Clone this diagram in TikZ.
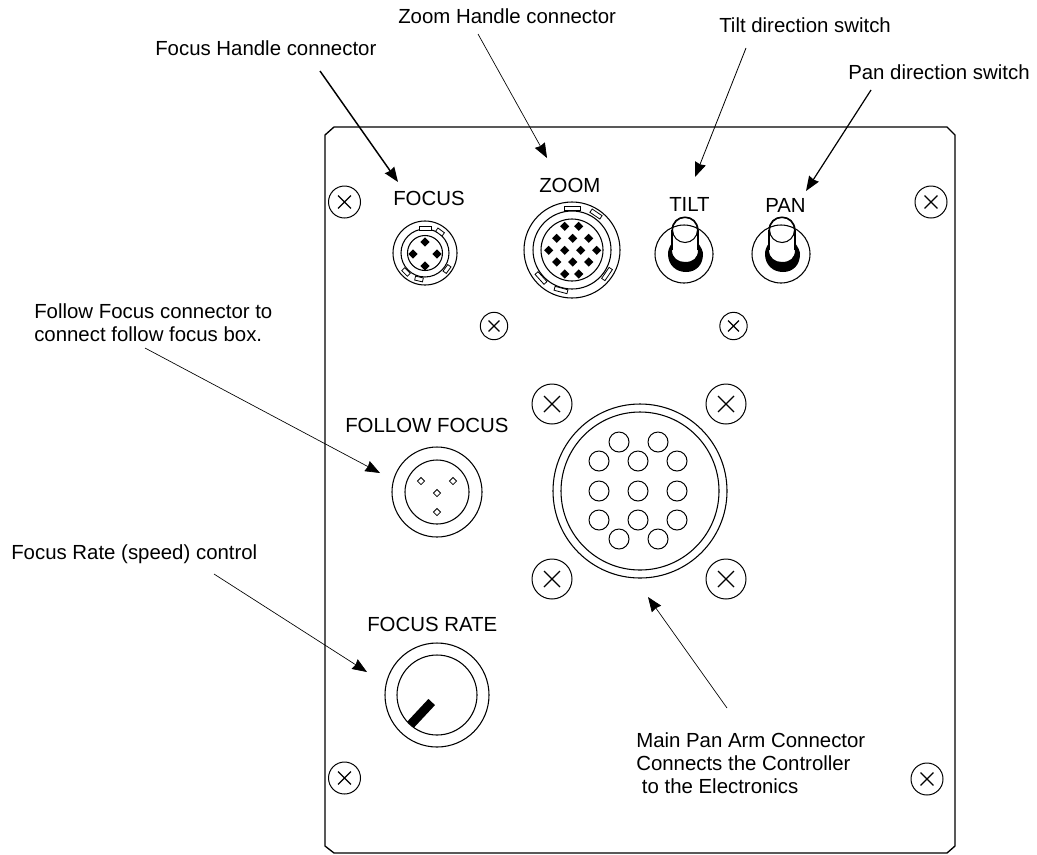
\documentclass[tikz,border=0pt]{standalone}
\usepackage{fontspec}
\setmainfont{Liberation Sans}
\usetikzlibrary{arrows.meta}
\usetikzlibrary{calc}
\usetikzlibrary{shapes.geometric}

\tikzset{
  lbl/.style={anchor=base west,inner sep=0pt,font=\fontsize{15.3}{17.5}\selectfont},
  lbltop/.style={anchor=north west,inner sep=0pt,align=left,font=\fontsize{15.3}{17.5}\selectfont},
  pointer/.style={line width=#1,-{Stealth[length=11pt,width=8.5pt,inset=0.8pt]}},
  ring/.style={line width=0.8pt},
  screw/.style={circle,draw,line width=0.75pt,inner sep=0pt,minimum size=#1,
    path picture={\draw [line width=0.9pt]
      ($(path picture bounding box.center)!0.4!(path picture bounding box.north west)$) --
      ($(path picture bounding box.center)!0.4!(path picture bounding box.south east)$)
      ($(path picture bounding box.center)!0.4!(path picture bounding box.north east)$) --
      ($(path picture bounding box.center)!0.4!(path picture bounding box.south west)$);}},
  pinblack/.style={diamond,fill=black,inner sep=0pt,minimum size=7pt},
  pinopen/.style={diamond,draw,line width=0.6pt,inner sep=0pt,minimum size=5.6pt},
  hole/.style={circle,draw,line width=0.75pt,inner sep=0pt,minimum size=15pt},
  tab/.style={rectangle,draw,fill=white,line width=0.6pt,inner sep=0pt,minimum width=#1,minimum height=3pt},
  toggle/.pic={
    \draw [ring] (0,0) circle (29);
    \fill (-12,-11) .. controls (-15,-7) and (-16,-3) .. (-16,0) .. controls (-16,11) and (-8,18) .. (2,18) .. controls (12,18) and (19,11) .. (19,0) .. controls (19,-3) and (17,-7) .. (14,-11) -- (14,-4) .. controls (14,4) and (9,8) .. (1,8) .. controls (-6,8) and (-12,4) .. (-12,-4) -- cycle;
    \draw [ring] (-12,-24) -- (-12,-4) (14,-24) -- (14,-4);
    \draw [ring] (-12,-24) .. controls (-12,-32) and (-6,-37) .. (1,-37) .. controls (8,-37) and (14,-32) .. (14,-24);
    \draw [ring] (1,-24) circle (12.5);
  }
}

\begin{document}
\begin{tikzpicture}[x=0.75pt,y=0.75pt,yscale=-1,xscale=1]
\path [use as bounding box] (0,0) rectangle (1037,854);

%Shape: Panel
\draw [line width=1pt] (334,127) -- (947,127) -- (955,135) -- (955,846) -- (947,853) -- (334,853) -- (325,846) -- (325,135) -- cycle ;

%Shape: Screws
\node [screw=24pt] (screwtl) at (344.5,202) {};
\node [screw=24pt] (screwtr) at (931,202) {};
\node [screw=24pt] (screwbl) at (344.5,778) {};
\node [screw=24pt] (screwbr) at (927,779) {};
\node [screw=20.5pt] (screwfoc) at (494,326) {};
\node [screw=20.5pt] (screwtilt) at (733.5,326) {};
\node [screw=30pt] (screwmtl) at (552,404) {};
\node [screw=30pt] (screwmtr) at (726,404) {};
\node [screw=30pt] (screwmbl) at (552,579) {};
\node [screw=30pt] (screwmbr) at (726,579) {};

%Shape: Focus connector
\draw [ring] (425,253) circle (32) (425,253) circle (24) (425,253) circle (17.5);
\node [tab=9pt] (ftab1) at (425,228) {};
\node [tab=6pt,rotate=-36] (ftab2) at (440,232) {};
\node [tab=6pt,rotate=-45] (ftab3) at (406,272) {};
\node [tab=6pt,rotate=-13] (ftab4) at (419,279) {};
\node [tab=6pt,rotate=54] (ftab5) at (447,269) {};
\node [pinblack] (fpin1) at (425,242) {};
\node [pinblack] (fpin2) at (413,254) {};
\node [pinblack] (fpin3) at (437,254) {};
\node [pinblack] (fpin4) at (425,266) {};

%Shape: Zoom connector
\draw [ring] (572,250) circle (48) (572,250) circle (39) (572,250) circle (31);
\node [tab=12pt] (ztab1) at (572,208) {};
\node [tab=9pt,rotate=-34] (ztab2) at (596,214) {};
\node [tab=10pt,rotate=-48] (ztab3) at (541,278) {};
\node [tab=10pt,rotate=-15] (ztab4) at (561,290) {};
\node [tab=10pt,rotate=56] (ztab5) at (607,274) {};
\node [pinblack] (zpin1) at (564.7,226.3) {};
\node [pinblack] (zpin2) at (578.7,226.3) {};
\node [pinblack] (zpin3) at (556.7,238.3) {};
\node [pinblack] (zpin4) at (572.7,238.3) {};
\node [pinblack] (zpin5) at (588.7,238.3) {};
\node [pinblack] (zpin6) at (548.7,250.3) {};
\node [pinblack] (zpin7) at (564.7,250.3) {};
\node [pinblack] (zpin8) at (580.7,250.3) {};
\node [pinblack] (zpin9) at (596.7,250.3) {};
\node [pinblack] (zpin10) at (556.7,262) {};
\node [pinblack] (zpin11) at (572.7,262) {};
\node [pinblack] (zpin12) at (588.7,262) {};
\node [pinblack] (zpin13) at (564.7,274) {};
\node [pinblack] (zpin14) at (578.7,274) {};

%Shape: Switches
\pic [transform shape] at (684,254) {toggle};
\pic [transform shape] at (781,254) {toggle};

%Shape: Follow focus connector
\draw [ring] (437,492) circle (45) (437,492) circle (32);
\node [pinopen] (ffpin1) at (421,481) {};
\node [pinopen] (ffpin2) at (453,481) {};
\node [pinopen] (ffpin3) at (437,493) {};
\node [pinopen] (ffpin4) at (437,512) {};

%Shape: Main connector
\draw [ring] (640,491) circle (87) (640,491) circle (79);
\node [hole] (mhole1) at (619,442) {};
\node [hole] (mhole2) at (658,442) {};
\node [hole] (mhole3) at (599,461) {};
\node [hole] (mhole4) at (638,461) {};
\node [hole] (mhole5) at (677,461) {};
\node [hole] (mhole6) at (599,491) {};
\node [hole] (mhole7) at (638,491) {};
\node [hole] (mhole8) at (677,491) {};
\node [hole] (mhole9) at (599,520) {};
\node [hole] (mhole10) at (638,520) {};
\node [hole] (mhole11) at (677,520) {};
\node [hole] (mhole12) at (619,539) {};
\node [hole] (mhole13) at (658,539) {};

%Shape: Focus rate knob
\draw [ring] (437,695) circle (52) (437,695) circle (40);
\draw [line width=6.75pt] (431.7,702) -- (410.5,724.7) ;

% Text Node
\node [lbl] (focuslbl) at (393,205) {FOCUS};
\node [lbl] (zoomlbl) at (539,192) {ZOOM};
\node [lbl] (tiltlbl) at (669,211) {TILT};
\node [lbl] (panlbl) at (765,212) {PAN};
\node [lbl] (followlbl) at (345,432) {FOLLOW FOCUS};
\node [lbl] (ratelbl) at (367,631) {FOCUS RATE};
\node [lbl] (focushandle) at (155,55) {Focus Handle connector};
\node [lbl] (zoomhandle) at (398,23) {Zoom Handle connector};
\node [lbl] (tiltdir) at (719,32) {Tilt direction switch};
\node [lbl] (pandir) at (848,79) {Pan direction switch};
\node [lbltop] (followtxt) at (34,303) {Follow Focus connector to\\connect follow focus box.};
\node [lbl] (ratetxt) at (11,559) {Focus Rate (speed) control};
\node [lbltop] (maintxt) at (636,732) {Main Pan Arm Connector\\Connects the Controller\\\ to the Electronics};

%Straight Lines
\coordinate (focustail) at (320,71);
\coordinate (focustip) at (398,182);
\coordinate (zoomtail) at (478,34);
\coordinate (zoomtip) at (547,158);
\coordinate (tilttail) at (746,48);
\coordinate (tilttip) at (695,177);
\coordinate (pantail) at (871,90);
\coordinate (pantip) at (806,191);
\coordinate (followtail) at (145,348);
\coordinate (followtip) at (380,473);
\coordinate (ratetail) at (214,574);
\coordinate (ratetip) at (367,672);
\coordinate (maintail) at (727,708);
\coordinate (maintip) at (648,597);
\draw [pointer=1.1pt] (focustail) -- (focustip) ;
\draw [pointer=0.5pt] (zoomtail) -- (zoomtip) ;
\draw [pointer=0.6pt] (tilttail) -- (tilttip) ;
\draw [pointer=0.9pt] (pantail) -- (pantip) ;
\draw [pointer=0.5pt] (followtail) -- (followtip) ;
\draw [pointer=0.5pt] (ratetail) -- (ratetip) ;
\draw [pointer=0.5pt] (maintail) -- (maintip) ;

\end{tikzpicture}
\end{document}
